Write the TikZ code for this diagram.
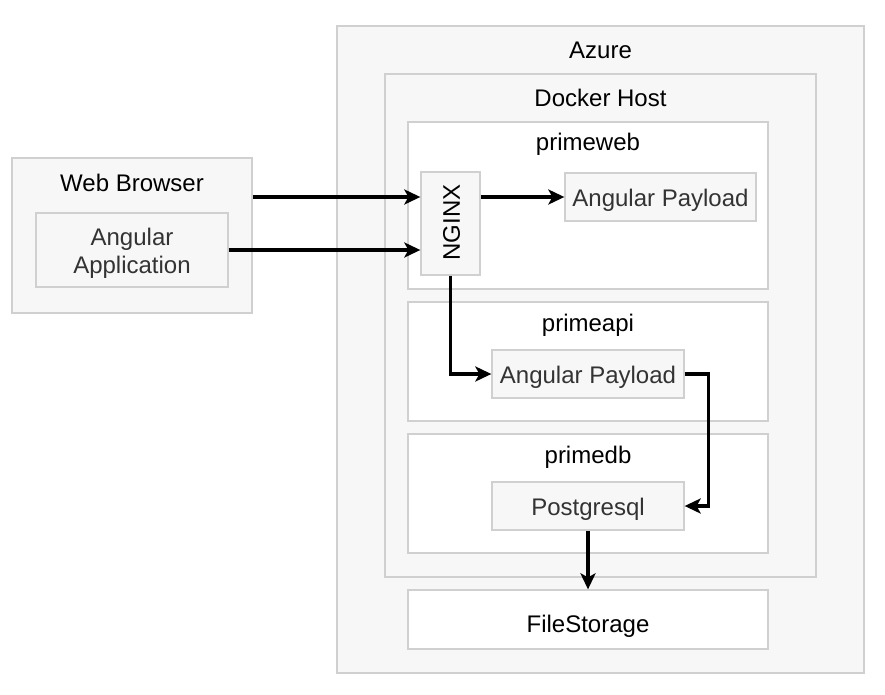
\documentclass[tikz,border=0pt]{standalone}
\usepackage{fontspec}
\setmainfont{Liberation Sans}
\usetikzlibrary{arrows.meta}
\definecolor{boxfill}{HTML}{F7F7F7}
\definecolor{boxline}{HTML}{D0D0D0}
\definecolor{txtgray}{HTML}{333333}
\begin{document}
\begin{tikzpicture}[x=1pt,y=-1pt,
  every node/.style={font=\fontsize{24}{28}\selectfont, inner sep=0pt},
  gbox/.style={draw=boxline, line width=1.3pt, fill=boxfill},
  wbox/.style={draw=boxline, line width=1.3pt, fill=white},
  ibox/.style={draw=boxline, line width=1.3pt, fill=boxfill},
  lbl/.style={anchor=base, text=txtgray},
  title/.style={anchor=base, text=black},
  arr/.style={line width=3.1pt, -{Stealth[length=16pt,width=15pt,inset=4pt]}}]
\useasboundingbox (0,0) rectangle (885,694);
% containers
\node[gbox, minimum width=527pt, minimum height=647pt] (az) at (600.5,349.5) {};
\node[title] (azt) at (600.5,58.5) {Azure};
\node[gbox, minimum width=431pt, minimum height=503pt] (dh) at (600.5,325.5) {};
\node[title] (dht) at (600.5,106.5) {Docker Host};
\node[wbox, minimum width=360pt, minimum height=167pt] (pweb) at (588,205.5) {};
\node[title] (pwebt) at (588,150) {primeweb};
\node[wbox, minimum width=360pt, minimum height=119pt] (papi) at (588,361.5) {};
\node[title] (papit) at (588,331.5) {primeapi};
\node[wbox, minimum width=360pt, minimum height=119pt] (pdb) at (588,493.5) {};
\node[title] (pdbt) at (588,463.5) {primedb};
\node[wbox, minimum width=360pt, minimum height=59pt] (fs) at (588,619.5) {};
\node[title] (fst) at (588,632) {FileStorage};
% web browser
\node[gbox, minimum width=240pt, minimum height=155pt] (wb) at (132,235.5) {};
\node[title] (wbt) at (132,191.5) {Web Browser};
\node[ibox, minimum width=192pt, minimum height=74pt] (aa) at (132,250) {};
\node[lbl] (aat1) at (132,245) {Angular};
\node[lbl] (aat2) at (132,273.5) {Application};
% inner nodes
\node[ibox, minimum width=59pt, minimum height=103pt] (ng) at (450.5,223.5) {};
\node[text=black, rotate=90] (ngt) at (451.5,222.5) {NGINX};
\node[ibox, minimum width=191pt, minimum height=48pt] (pw) at (660.5,197) {};
\node[lbl] (pwt) at (660.5,206.5) {Angular Payload};
\node[ibox, minimum width=192pt, minimum height=48pt] (pa) at (588,374) {};
\node[lbl] (pat) at (588,383.5) {Angular Payload};
\node[ibox, minimum width=192pt, minimum height=48pt] (pg) at (588,506) {};
\node[lbl] (pgt) at (588,515.5) {Postgresql};
% connectors
\draw[arr] (wb.east |- 0,197) -- (ng.west |- 0,197);
\draw[arr] (aa.east |- 0,250) -- (ng.west |- 0,250);
\draw[arr] (ng.east |- pw.west) -- (pw.west);
\draw[arr] (ng.south) |- (pa.west);
\draw[arr] (pa.east) -- ++(24,0) |- (pg.east);
\draw[arr] (pg.south) -- (fs.north);
\end{tikzpicture}
\end{document}
